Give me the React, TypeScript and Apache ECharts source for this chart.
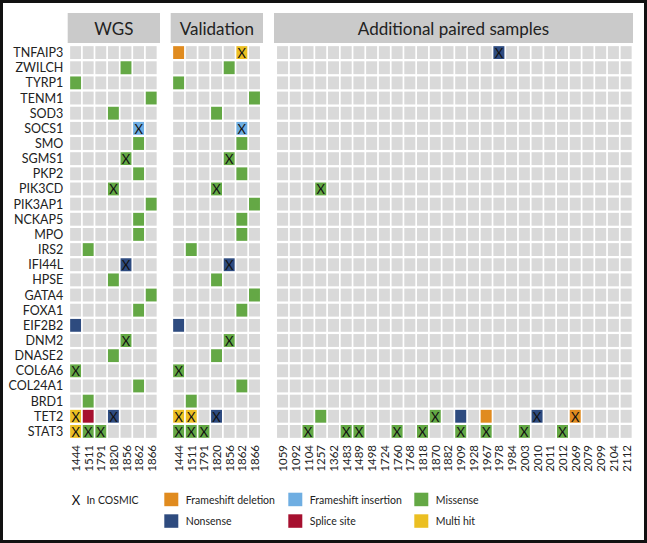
import React, { useEffect, useRef } from 'react';
import * as echarts from 'echarts';

const genes = [
  'TNFAIP3', 'ZWILCH', 'TYRP1', 'TENM1', 'SOD3', 'SOCS1', 'SMO', 'SGMS1', 'PKP2', 'PIK3CD',
  'PIK3AP1', 'NCKAP5', 'MPO', 'IRS2', 'IFI44L', 'HPSE', 'GATA4', 'FOXA1', 'EIF2B2', 'DNM2',
  'DNASE2', 'COL6A6', 'COL24A1', 'BRD1', 'TET2', 'STAT3',
];

const wgsSamples = ['1444', '1511', '1791', '1820', '1856', '1862', '1866'];
const validationSamples = ['1444', '1511', '1791', '1820', '1856', '1862', '1866'];
const additionalSamples = [
  '1059', '1092', '1104', '1257', '1362', '1483', '1489', '1498', '1724', '1760', '1768', '1818',
  '1870', '1882', '1909', '1928', '1967', '1978', '1984', '2003', '2010', '2011', '2012', '2069',
  '2079', '2099', '2104', '2112',
];

const panelTitles = ['WGS', 'Validation', 'Additional paired samples'];

const mutationTypes = ['Frameshift deletion', 'Frameshift insertion', 'Missense', 'Nonsense', 'Splice site', 'Multi hit'];
const typeCodes = ['FD', 'FI', 'MS', 'NS', 'SS', 'MH'];
const typeColors = ['#E08B1F', '#6FAEE2', '#64A845', '#2E4B7F', '#A6102F', '#EBBF22'];
const cosmicLabel = 'In COSMIC';

// [gene, sample, type code, in COSMIC (1/0)]
const wgsMutations: [string, string, string, number][] = [
  ['ZWILCH', '1856', 'MS', 0],
  ['TYRP1', '1444', 'MS', 0],
  ['TENM1', '1866', 'MS', 0],
  ['SOD3', '1820', 'MS', 0],
  ['SOCS1', '1862', 'FI', 1],
  ['SMO', '1862', 'MS', 0],
  ['SGMS1', '1856', 'MS', 1],
  ['PKP2', '1862', 'MS', 0],
  ['PIK3CD', '1820', 'MS', 1],
  ['PIK3AP1', '1866', 'MS', 0],
  ['NCKAP5', '1862', 'MS', 0],
  ['MPO', '1862', 'MS', 0],
  ['IRS2', '1511', 'MS', 0],
  ['IFI44L', '1856', 'NS', 1],
  ['HPSE', '1820', 'MS', 0],
  ['GATA4', '1866', 'MS', 0],
  ['FOXA1', '1862', 'MS', 0],
  ['EIF2B2', '1444', 'NS', 0],
  ['DNM2', '1856', 'MS', 1],
  ['DNASE2', '1820', 'MS', 0],
  ['COL6A6', '1444', 'MS', 1],
  ['COL24A1', '1862', 'MS', 0],
  ['BRD1', '1511', 'MS', 0],
  ['TET2', '1444', 'MH', 1],
  ['TET2', '1511', 'SS', 0],
  ['TET2', '1820', 'NS', 1],
  ['STAT3', '1444', 'MH', 1],
  ['STAT3', '1511', 'MS', 1],
  ['STAT3', '1791', 'MS', 1],
];

const validationMutations: [string, string, string, number][] = [
  ['TNFAIP3', '1444', 'FD', 0],
  ['TNFAIP3', '1862', 'MH', 1],
  ['ZWILCH', '1856', 'MS', 0],
  ['TYRP1', '1444', 'MS', 0],
  ['TENM1', '1866', 'MS', 0],
  ['SOD3', '1820', 'MS', 0],
  ['SOCS1', '1862', 'FI', 1],
  ['SMO', '1862', 'MS', 0],
  ['SGMS1', '1856', 'MS', 1],
  ['PKP2', '1862', 'MS', 0],
  ['PIK3CD', '1820', 'MS', 1],
  ['PIK3AP1', '1866', 'MS', 0],
  ['NCKAP5', '1862', 'MS', 0],
  ['MPO', '1862', 'MS', 0],
  ['IRS2', '1511', 'MS', 0],
  ['IFI44L', '1856', 'NS', 1],
  ['HPSE', '1820', 'MS', 0],
  ['GATA4', '1866', 'MS', 0],
  ['FOXA1', '1862', 'MS', 0],
  ['EIF2B2', '1444', 'NS', 0],
  ['DNM2', '1856', 'MS', 1],
  ['DNASE2', '1820', 'MS', 0],
  ['COL6A6', '1444', 'MS', 1],
  ['COL24A1', '1862', 'MS', 0],
  ['BRD1', '1511', 'MS', 0],
  ['TET2', '1444', 'MH', 1],
  ['TET2', '1511', 'MH', 1],
  ['TET2', '1820', 'NS', 1],
  ['STAT3', '1444', 'MS', 1],
  ['STAT3', '1511', 'MS', 1],
  ['STAT3', '1791', 'MS', 1],
];

const additionalMutations: [string, string, string, number][] = [
  ['TNFAIP3', '1978', 'NS', 1],
  ['PIK3CD', '1257', 'MS', 1],
  ['TET2', '1257', 'MS', 0],
  ['TET2', '1870', 'MS', 1],
  ['TET2', '1909', 'NS', 0],
  ['TET2', '1967', 'FD', 0],
  ['TET2', '2010', 'NS', 1],
  ['TET2', '2069', 'FD', 1],
  ['STAT3', '1104', 'MS', 1],
  ['STAT3', '1483', 'MS', 1],
  ['STAT3', '1489', 'MS', 1],
  ['STAT3', '1760', 'MS', 1],
  ['STAT3', '1818', 'MS', 1],
  ['STAT3', '1909', 'MS', 1],
  ['STAT3', '1967', 'MS', 1],
  ['STAT3', '2003', 'MS', 1],
  ['STAT3', '2012', 'MS', 1],
];

const FONT = 'Lato';
const GRAY = '#D9D9D9';

function buildCells(samples: string[], muts: [string, string, string, number][]) {
  const out: number[][] = [];
  genes.forEach((g, gi) => {
    samples.forEach((s, si) => {
      const m = muts.find((r) => r[0] === g && r[1] === s);
      out.push([si, gi, m ? typeCodes.indexOf(m[2]) : -1, m ? m[3] : 0]);
    });
  });
  return out;
}

const renderCell = (params: any, api: any) => {
  const xi = api.value(0);
  const yi = api.value(1);
  const t = api.value(2);
  const cos = api.value(3);
  const c = api.coord([xi, yi]);
  const sz = api.size([1, 1]);
  const w = sz[0] - 1.7;
  const h = sz[1] - 2.3;
  const children: any[] = [
    {
      type: 'rect',
      shape: { x: c[0] - w / 2, y: c[1] - h / 2, width: w, height: h },
      style: { fill: t >= 0 ? typeColors[t] : GRAY },
    },
  ];
  if (cos) {
    children.push({
      type: 'text',
      x: c[0],
      y: c[1] + 0.5,
      style: { text: 'X', fill: '#111', fontSize: 13, fontFamily: FONT, align: 'center', verticalAlign: 'middle' },
    });
  }
  return { type: 'group', children };
};

export default function App() {
  const ref = useRef<HTMLDivElement>(null);

  useEffect(() => {
    document.body.style.margin = '0';
    if (!ref.current) return;
    const chart = echarts.init(ref.current, undefined, { renderer: 'svg' });

    const panels = [
      { samples: wgsSamples, muts: wgsMutations, left: 69.3, width: 88.2, hx: 67.7, hw: 92.3 },
      { samples: validationSamples, muts: validationMutations, left: 172.3, width: 88.5, hx: 170.7, hw: 92.3 },
      { samples: additionalSamples, muts: additionalMutations, left: 276.2, width: 356.3, hx: 274, hw: 359 },
    ];
    const top = 45;
    const height = 394;

    const grids = panels.map((p) => ({ left: p.left, top, width: p.width, height }));
    const xAxes = panels.map((p, i) => ({
      type: 'category',
      gridIndex: i,
      data: p.samples,
      axisLine: { show: false },
      axisTick: { show: false },
      splitLine: { show: false },
      axisLabel: { rotate: 90, fontSize: 11.5, fontFamily: FONT, color: '#222', margin: 6, interval: 0 },
    }));
    const yAxes = panels.map((p, i) => ({
      type: 'category',
      gridIndex: i,
      data: genes,
      inverse: true,
      axisLine: { show: false },
      axisTick: { show: false },
      splitLine: { show: false },
      axisLabel: { show: i === 0, fontSize: 12.5, fontFamily: FONT, color: '#222', margin: 6, interval: 0 },
    }));
    const series = panels.map((p, i) => ({
      type: 'custom',
      xAxisIndex: i,
      yAxisIndex: i,
      renderItem: renderCell,
      encode: { x: 0, y: 1 },
      data: buildCells(p.samples, p.muts),
    }));

    const graphics: any[] = [
      {
        type: 'rect',
        shape: { x: 1.5, y: 1.5, width: 644, height: 540 },
        style: { fill: 'none', stroke: '#111', lineWidth: 3 },
        silent: true,
      },
    ];
    panels.forEach((p, i) => {
      graphics.push({
        type: 'rect',
        shape: { x: p.hx, y: 13, width: p.hw, height: 30 },
        style: { fill: '#CACACA' },
      });
      graphics.push({
        type: 'text',
        x: p.hx + p.hw / 2,
        y: 28.5,
        style: {
          text: panelTitles[i],
          fontSize: 17,
          fontFamily: FONT,
          fill: '#222',
          align: 'center',
          verticalAlign: 'middle',
        },
      });
    });

    // Legend
    graphics.push({
      type: 'text',
      x: 76,
      y: 499.5,
      style: { text: 'X', fontSize: 13, fontFamily: FONT, fill: '#111', align: 'center', verticalAlign: 'middle' },
    });
    graphics.push({
      type: 'text',
      x: 86.5,
      y: 499.5,
      style: { text: cosmicLabel, fontSize: 10.5, fontFamily: FONT, fill: '#222', align: 'left', verticalAlign: 'middle' },
    });
    const colX = [164.3, 288.3, 414.3];
    const rowY = [492.7, 514.3];
    mutationTypes.forEach((name, i) => {
      const cx = colX[i % 3];
      const ry = rowY[Math.floor(i / 3)];
      graphics.push({
        type: 'rect',
        shape: { x: cx, y: ry, width: 14, height: 13.5 },
        style: { fill: typeColors[i] },
      });
      graphics.push({
        type: 'text',
        x: cx + 21.5,
        y: ry + 7,
        style: { text: name, fontSize: 10.5, fontFamily: FONT, fill: '#222', align: 'left', verticalAlign: 'middle' },
      });
    });

    chart.setOption({
      animation: false,
      backgroundColor: '#ffffff',
      grid: grids,
      xAxis: xAxes,
      yAxis: yAxes,
      series,
      graphic: graphics,
    });

    return () => chart.dispose();
  }, []);

  return <div ref={ref} style={{ width: 647, height: 543 }} />;
}
